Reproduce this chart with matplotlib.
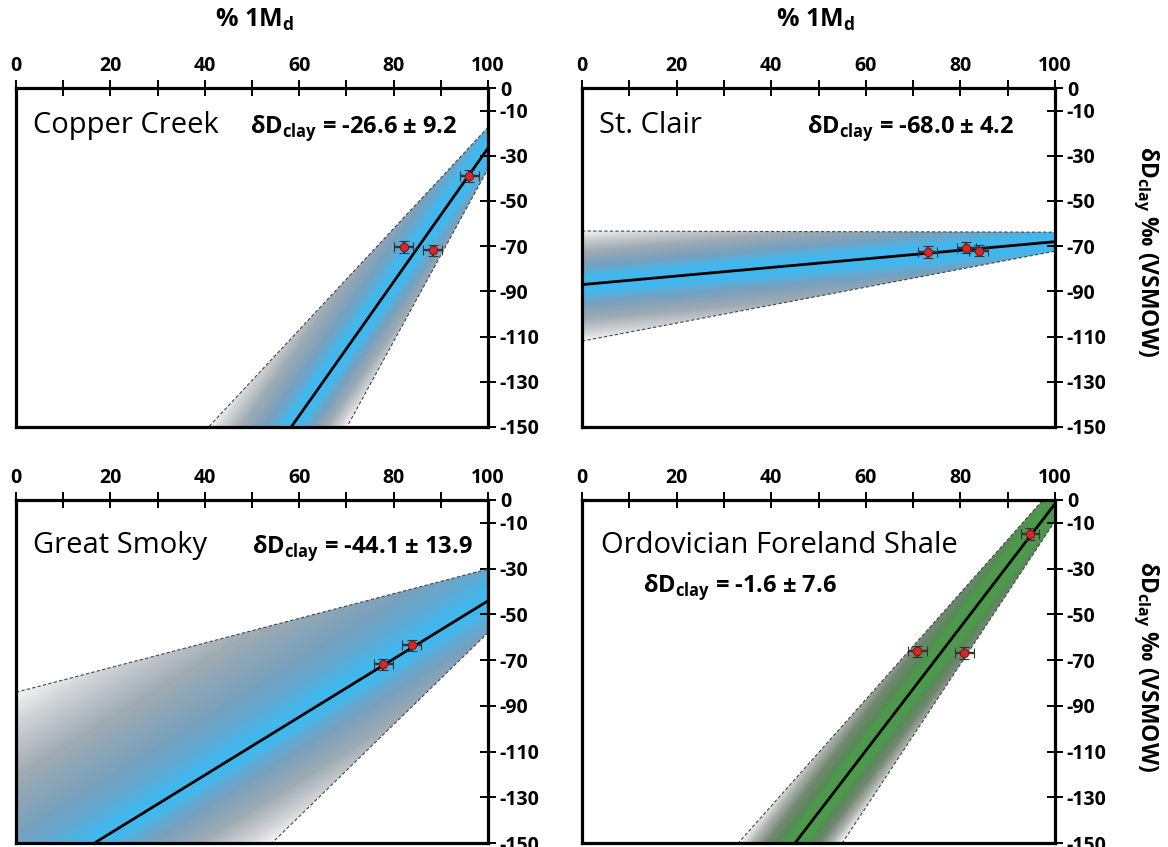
import numpy as np
import matplotlib
matplotlib.use("Agg")
import matplotlib.pyplot as plt
from matplotlib.colors import LinearSegmentedColormap
from matplotlib.patches import Polygon

plt.rcParams['font.family'] = ['Open Sans', 'DejaVu Sans']
plt.rcParams['mathtext.fontset'] = 'custom'
plt.rcParams['mathtext.rm'] = 'Open Sans'
plt.rcParams['mathtext.bf'] = 'Open Sans:bold'

# sections and regressed clay endmember (value at 100 % 1Md)
names = ["Copper Creek", "St. Clair", "Great Smoky", "Ordovician Foreland Shale"]
dd_clay = [-26.6, -68.0, -44.1, -1.6]
dd_err = [9.2, 4.2, 13.9, 7.6]

# slopes (per % 1Md) of the fit and of the upper / lower envelope lines
fit_slope = [2.96, 0.19, 1.27, 2.70]
upper_slope = [2.24, -0.005, 0.539, 2.33]
lower_slope = [3.82, 0.398, 2.01, 3.13]

# measured samples
cc_x = [96.0, 82.1, 88.3]
cc_y = [-39.0, -70.3, -71.8]
sc_x = [73.1, 81.2, 83.9]
sc_y = [-72.6, -70.7, -72.0]
gs_x = [77.8, 83.8]
gs_y = [-71.9, -63.6]
ofs_x = [94.7, 70.9, 80.8]
ofs_y = [-14.9, -66.2, -66.9]
samples_x = [cc_x, sc_x, gs_x, ofs_x]
samples_y = [cc_y, sc_y, gs_y, ofs_y]
x_err = 2.0
y_err = 2.5

x_ticks = np.arange(0, 101, 10)
y_ticks = [0, -10, -30, -50, -70, -90, -110, -130, -150]

blue_cmap = LinearSegmentedColormap.from_list("band_blue", [
    (0.0, (0.26, 0.72, 0.93)), (0.1, (0.37, 0.67, 0.83)),
    (0.25, (0.47, 0.63, 0.74)), (0.55, (0.62, 0.67, 0.70)),
    (0.85, (0.83, 0.84, 0.85)), (1.0, (0.96, 0.96, 0.96))])
green_cmap = LinearSegmentedColormap.from_list("band_green", [
    (0.0, (0.30, 0.60, 0.30)), (0.15, (0.35, 0.54, 0.35)),
    (0.4, (0.45, 0.53, 0.45)), (0.7, (0.68, 0.70, 0.68)),
    (1.0, (0.97, 0.97, 0.97))])
cmaps = [blue_cmap, blue_cmap, blue_cmap, green_cmap]
core_px = 8.0

W, H = 1168, 847
fig = plt.figure(figsize=(W / 100, H / 100), dpi=100)
rects = [[0.0137, 0.4959, 0.4041, 0.4002],
         [0.4983, 0.4959, 0.4050, 0.4002],
         [0.0137, 0.0047, 0.4041, 0.4050],
         [0.4983, 0.0047, 0.4050, 0.4050]]
title_pos = [(0.036, 0.867), (0.036, 0.867), (0.036, 0.845), (0.04, 0.845)]
stat_pos = [(0.496, 0.867), (0.476, 0.867), (0.50, 0.845), (0.129, 0.732)]


def line_at(x, y100, slope):
    return y100 + slope * (np.asarray(x) - 100.0)


for i in range(4):
    ax = fig.add_axes(rects[i])
    ax.set_xlim(0, 100)
    ax.set_ylim(-150, 0)

    c = dd_clay[i]
    up100 = c + dd_err[i]
    lo100 = c - dd_err[i]

    # pixel distance from the fit line, so the bright core has a fixed width
    px_x = rects[i][2] * W / 100.0
    px_y = rects[i][3] * H / 150.0
    k = fit_slope[i] * px_y / px_x
    to_px = px_y / np.sqrt(1 + k ** 2)

    gx = np.linspace(0, 100, 700)
    gy = np.linspace(-150, 0, 500)
    X, Y = np.meshgrid(gx, gy)
    d = (Y - line_at(X, c, fit_slope[i])) * to_px

    xs = np.linspace(0, 100, 2001)
    yu = line_at(xs, up100, upper_slope[i])
    yl = line_at(xs, lo100, lower_slope[i])
    ycs = line_at(xs, c, fit_slope[i])
    vis_u = (yu >= -150) & (yu <= 0)
    vis_l = (yl >= -150) & (yl <= 0)
    max_u = np.max((yu - ycs)[vis_u]) * to_px
    max_l = np.max((ycs - yl)[vis_l]) * to_px
    s = np.where(d > 0, (d - core_px) / (max_u - core_px),
                 (-d - core_px) / (max_l - core_px))
    rgb = cmaps[i](np.clip(s, 0, 1))

    im = ax.imshow(rgb, extent=[0, 100, -150, 0], origin='lower',
                   aspect='auto', interpolation='bilinear', zorder=1)
    band = Polygon([(0, line_at(0, lo100, lower_slope[i])),
                    (100, lo100), (100, up100),
                    (0, line_at(0, up100, upper_slope[i]))],
                   closed=True, transform=ax.transData)
    im.set_clip_path(band)

    ax.plot([0, 100], line_at([0, 100], up100, upper_slope[i]),
            color='#444444', lw=0.8, ls=(0, (3, 2)), zorder=2)
    ax.plot([0, 100], line_at([0, 100], lo100, lower_slope[i]),
            color='#444444', lw=0.8, ls=(0, (3, 2)), zorder=2)
    ax.plot([0, 100], line_at([0, 100], c, fit_slope[i]),
            color='black', lw=2.0, zorder=3)

    ax.errorbar(samples_x[i], samples_y[i], xerr=x_err, yerr=y_err,
                fmt='o', ms=6, mfc='#d42a27', mec='#7a1a1a', mew=0.8,
                ecolor='#333333', elinewidth=1.7, capsize=3.5,
                capthick=1.7, zorder=5)

    ax.text(*title_pos[i], names[i], transform=ax.transAxes,
            fontsize=21, ha='left', va='baseline', zorder=6)
    ax.text(*stat_pos[i],
            'δD$_{\\mathbf{clay}}$ = %.1f ± %.1f' % (dd_clay[i], dd_err[i]),
            transform=ax.transAxes, fontsize=17, fontweight='bold',
            ha='left', va='baseline', zorder=6)

    for side in ['top', 'bottom', 'left', 'right']:
        ax.spines[side].set_linewidth(2.3)
        ax.spines[side].set_zorder(7)
    ax.xaxis.tick_top()
    ax.yaxis.tick_right()
    ax.set_xticks(x_ticks)
    ax.set_xticklabels([str(v) if v % 20 == 0 else '' for v in x_ticks])
    ax.set_yticks(y_ticks)
    ax.set_yticklabels([str(v) for v in y_ticks])
    ax.tick_params(direction='inout', length=11, width=1.4, pad=3,
                   labelsize=14)
    for lab in ax.get_xticklabels() + ax.get_yticklabels():
        lab.set_fontweight('bold')

for xc in [0.218, 0.698]:
    fig.text(xc, 0.977, '% 1M$_{\\mathbf{d}}$', fontsize=18,
             fontweight='bold', ha='center', va='center')
for yc in [1 - 252 / 847, 1 - 667 / 847]:
    fig.text(1146 / 1168, yc, 'δD$_{\\mathbf{clay}}$ ‰ (VSMOW)',
             fontsize=16.5, fontweight='bold', rotation=270,
             ha='center', va='center')

fig.savefig('out.png', dpi=100)
